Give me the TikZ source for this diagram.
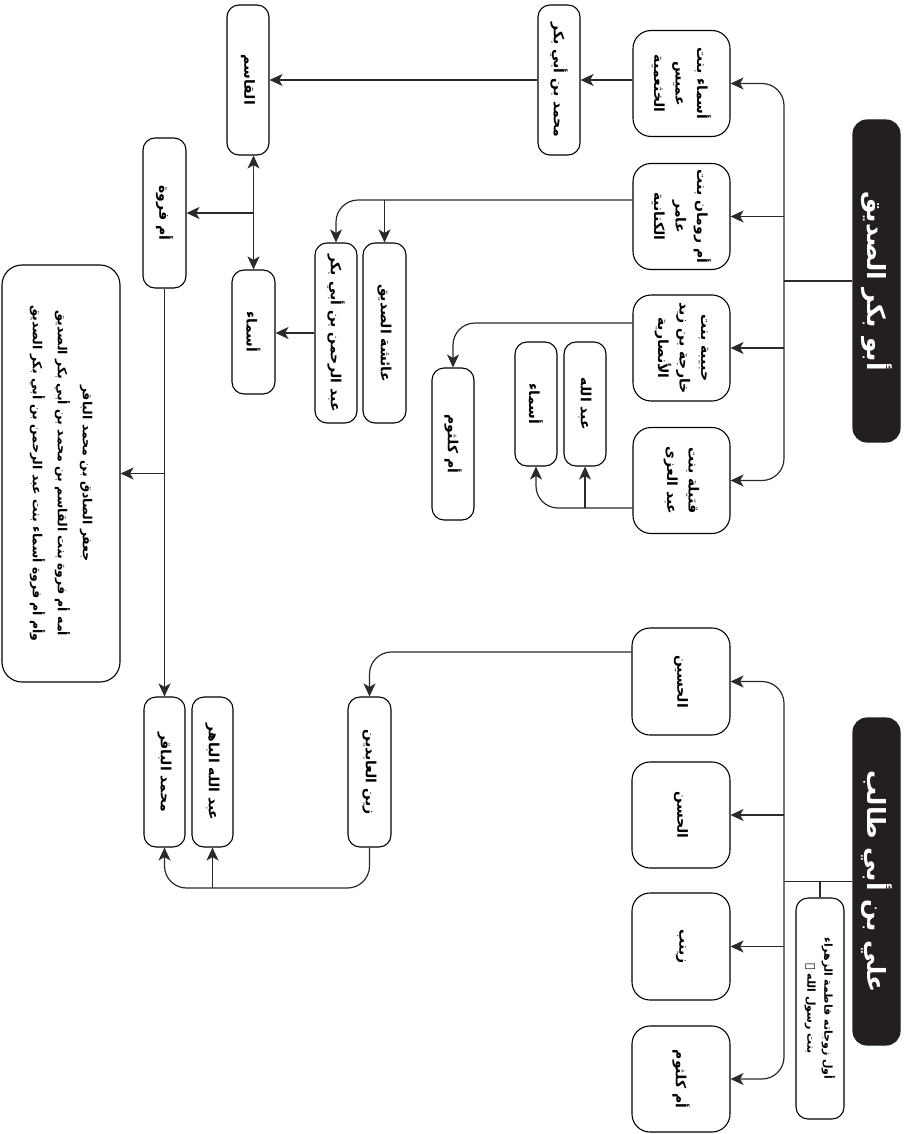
\documentclass[tikz,border=0pt]{standalone}
\usepackage{fontspec}
\usetikzlibrary{arrows.meta}
\TeXXeTstate=1
\newfontfamily\arabicfont[Script=Arabic]{DejaVu Sans}
\newcommand\myR[1]{\beginR#1\endR}
\definecolor{rootc}{HTML}{231F20}
\definecolor{linec}{HTML}{2A2A2A}
\tikzset{
  box/.style={draw=black, line width=1.1pt, rounded corners=12pt, rotate=-90, align=center, inner sep=2pt,
    font=\arabicfont\bfseries\fontsize{14}{21.5}\selectfont},
  wide/.style={box, rounded corners=18pt},
  root/.style={box, fill=rootc, draw=rootc, text=white, rounded corners=14pt,
    font=\arabicfont\bfseries\fontsize{25}{28}\selectfont},
  link/.style={line width=1.2pt, draw=linec},
  arr/.style={link, -{Stealth[length=13pt,width=12pt,inset=3.5pt]}},
  arrtwo/.style={link, {Stealth[length=13pt,width=12pt,inset=3.5pt]}-{Stealth[length=13pt,width=12pt,inset=3.5pt]}},
}
\begin{document}
\begin{tikzpicture}[x=1pt,y=-1pt]
\useasboundingbox (0,0) rectangle (904,1134);
% roots
\node[root, minimum width=322pt, minimum height=47pt] (ab) at (876.5,281) {\myR{أبو بكر الصديق}};
\node[root, minimum width=327pt, minimum height=47pt] (ali) at (876.5,881.5) {\myR{علي بن أبي طالب}};
% Abu Bakr wives
\node[wide, minimum width=106pt, minimum height=97pt] (asma) at (681.5,83.5) {\myR{أسماء بنت}\\\myR{عميس}\\\myR{الخثعمية}};
\node[wide, minimum width=106pt, minimum height=97pt] (umruman) at (681.5,216.5) {\myR{أم رومان بنت}\\\myR{عامر}\\\myR{الكنانية}};
\node[wide, minimum width=106pt, minimum height=97pt] (habiba) at (681.5,348) {\myR{حبيبة بنت}\\\myR{خارجة بن زيد}\\\myR{الأنصارية}};
\node[wide, minimum width=106pt, minimum height=97pt] (qutayla) at (681.5,480.5) {\myR{قتيلة بنت}\\\myR{عبد العزى}};
% Abu Bakr descendants
\node[box, minimum width=150pt, minimum height=42pt] (mab) at (559,80) {\myR{محمد بن أبي بكر}};
\node[box, minimum width=150pt, minimum height=42pt] (qasim) at (248,80) {\myR{القاسم}};
\node[box, minimum width=180pt, minimum height=43pt] (aisha) at (384.5,333) {\myR{عائشة الصديق}};
\node[box, minimum width=180pt, minimum height=42pt] (abdrahman) at (336,333) {\myR{عبد الرحمن بن أبي بكر}};
\node[box, minimum width=124pt, minimum height=43pt] (asmaatwo) at (253.5,332) {\myR{أسماء}};
\node[box, minimum width=150pt, minimum height=43pt] (umfarwa) at (164.5,213) {\myR{أم فروة}};
\node[box, rounded corners=20pt, minimum width=417pt, minimum height=118pt,
  font=\arabicfont\bfseries\fontsize{12.5}{25}\selectfont] (textbox) at (61,473.5)
  {\myR{جعفر الصادق بن محمد الباقر}\\\myR{أمه أم فروة بنت القاسم بن محمد بن أبي بكر الصديق}\\\myR{وأم أم فروة أسماء بنت عبد الرحمن بن أبي بكر الصديق}};
\node[box, minimum width=152pt, minimum height=42pt] (umkulab) at (453,444) {\myR{أم كلثوم}};
\node[box, minimum width=124pt, minimum height=42pt] (abdallah) at (585,404) {\myR{عبد الله}};
\node[box, minimum width=124pt, minimum height=42pt] (asmaab) at (536,404) {\myR{أسماء}};
% Ali side
\node[box, minimum width=150pt, minimum height=41pt] (baqir) at (164.5,772) {\myR{محمد الباقر}};
\node[box, minimum width=150pt, minimum height=41pt] (bahir) at (212.5,772) {\myR{عبد الله الباهر}};
\node[box, minimum width=150pt, minimum height=43pt] (zayn) at (369.5,772) {\myR{زين العابدين}};
\node[wide, minimum width=107pt, minimum height=98pt] (husayn) at (681,681.5) {\myR{الحسين}};
\node[wide, minimum width=106pt, minimum height=98pt] (hasan) at (681,815) {\myR{الحسن}};
\node[wide, minimum width=107pt, minimum height=98pt] (zaynab) at (681,946.5) {\myR{زينب}};
\node[wide, minimum width=106pt, minimum height=98pt] (umkul) at (681,1079) {\myR{أم كلثوم}};
\node[box, minimum width=221pt, minimum height=48pt, font=\arabicfont\bfseries\fontsize{11}{17}\selectfont] (fatima) at (820,1008.5)
  {\myR{أول زوجاته فاطمة الزهراء}\\\myR{بنت رسول الله {\mdseries ﷺ}}};
% Abu Bakr spine
\coordinate (absp) at (ab.south -| 784,0);
\draw[link] (ab.south) -- (absp);
\draw[arr, rounded corners=22pt] (absp) |- (asma.north);
\draw[arr, rounded corners=22pt] (absp) |- (qutayla.north);
\draw[arr] (absp |- umruman.north) -- (umruman.north);
\draw[arr] (absp |- habiba.north) -- (habiba.north);
% Ali spine
\coordinate (alisp) at (ali.south -| 784,0);
\draw[link] (ali.south) -- (alisp);
\draw[arr, rounded corners=22pt] (alisp) |- (husayn.north);
\draw[arr, rounded corners=22pt] (alisp) |- (umkul.north);
\draw[arr] (alisp |- hasan.north) -- (hasan.north);
\draw[arr] (alisp |- zaynab.north) -- (zaynab.north);
\draw[link] (fatima.west |- ali.south) -- (fatima.west);
% Abu Bakr descendants
\draw[arr] (asma.south |- mab.north) -- (mab.north);
\draw[arr] (mab.south) -- (qasim.north);
\draw[arr, rounded corners=22pt] (umruman.south |- 0,200) -| (abdrahman.west);
\draw[arr] (aisha.west |- 0,200) -- (aisha.west);
\draw[arr] (abdrahman.south) -- (abdrahman.south -| asmaatwo.north);
\draw[arrtwo] (qasim.east -| asmaatwo.west) -- (asmaatwo.west);
\draw[arr] (asmaatwo.west |- umfarwa.north) -- (umfarwa.north);
\draw[arr] (umfarwa.east) -- (baqir.west);
\draw[arr] (umfarwa.east |- textbox.north) -- (textbox.north);
\draw[arr, rounded corners=22pt] (habiba.south |- 0,323) -| (umkulab.west);
\draw[arr, rounded corners=22pt] (qutayla.south |- 0,508) -| (asmaab.east);
\draw[arr] (abdallah.east |- 0,508) -- (abdallah.east);
% Ali descendants
\draw[arr, rounded corners=22pt] (husayn.south |- 0,652) -| (zayn.west);
\coordinate (zb) at (zayn.east |- 0,888);
\draw[arr, rounded corners=22pt] (zayn.east) -- (zb) -| (baqir.east);
\draw[arr] (bahir.east |- zb) -- (bahir.east);
\end{tikzpicture}
\end{document}
